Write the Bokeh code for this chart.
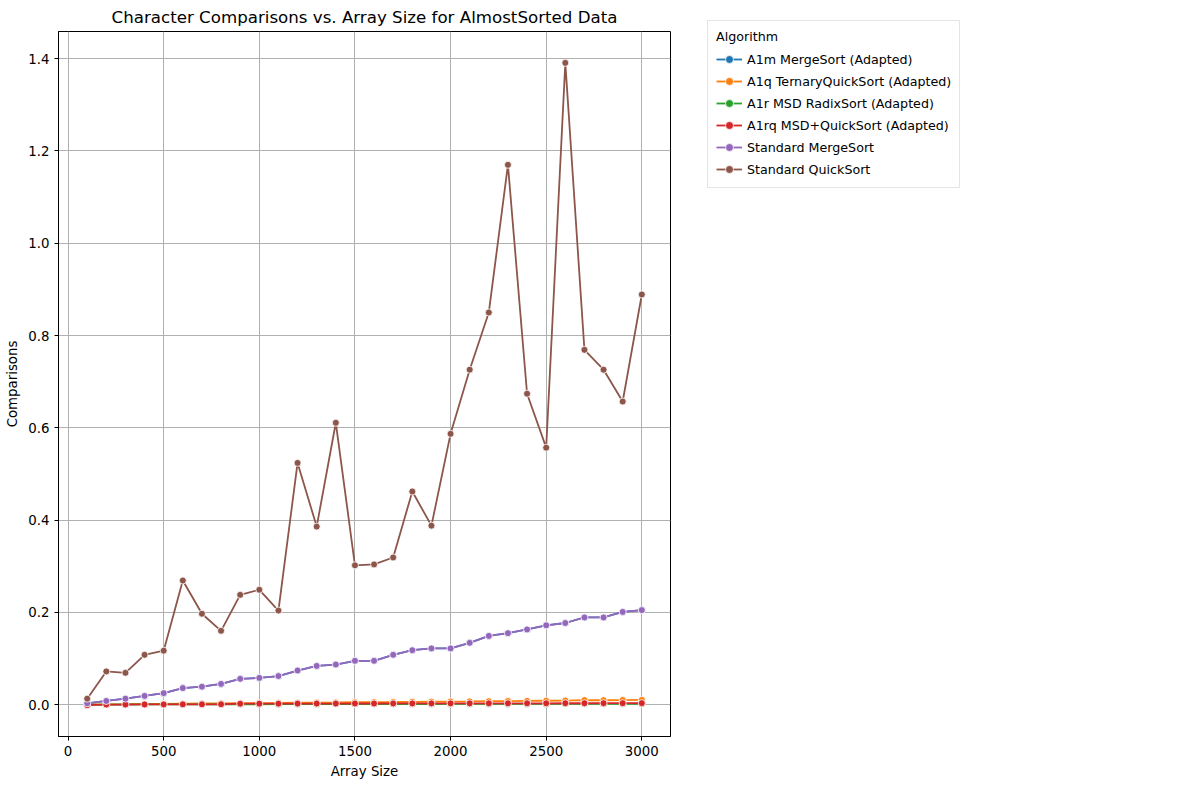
from bokeh.plotting import figure
from bokeh.models import Legend, LegendItem, Range1d, CustomJSTickFormatter, Label, SingleIntervalTicker
from bokeh.embed import file_html
from bokeh.resources import INLINE

sizes = list(range(100, 3100, 100))
std_quick = [0.13e6, 0.72e6, 0.69e6, 1.08e6, 1.17e6, 2.69e6, 1.97e6, 1.60e6, 2.38e6, 2.49e6,
             2.04e6, 5.24e6, 3.86e6, 6.11e6, 3.02e6, 3.04e6, 3.19e6, 4.62e6, 3.88e6, 5.87e6,
             7.26e6, 8.50e6, 11.70e6, 6.74e6, 5.57e6, 13.91e6, 7.69e6, 7.26e6, 6.57e6, 8.89e6]
std_merge = [0.03e6, 0.08e6, 0.13e6, 0.19e6, 0.25e6, 0.36e6, 0.39e6, 0.45e6, 0.56e6, 0.58e6,
             0.62e6, 0.74e6, 0.84e6, 0.87e6, 0.95e6, 0.95e6, 1.08e6, 1.18e6, 1.22e6, 1.22e6,
             1.34e6, 1.49e6, 1.55e6, 1.63e6, 1.72e6, 1.77e6, 1.89e6, 1.89e6, 2.01e6, 2.05e6]
a1m = std_merge
a1q = [5e3, 8e3, 1.1e4, 1.5e4, 1.8e4, 2.2e4, 2.5e4, 2.8e4, 3.2e4, 3.5e4,
       3.8e4, 4.2e4, 4.5e4, 4.8e4, 5.2e4, 5.5e4, 5.8e4, 6.2e4, 6.5e4, 6.8e4,
       7.1e4, 7.5e4, 7.8e4, 8.2e4, 8.5e4, 8.8e4, 9.8e4, 9.6e4, 1.0e5, 1.02e5]
a1r = [2e3, 3e3, 4e3, 5e3, 6e3, 6e3, 7e3, 8e3, 9e3, 9e3,
       1.0e4, 1.0e4, 1.1e4, 1.2e4, 1.2e4, 1.3e4, 1.3e4, 1.4e4, 1.4e4, 1.5e4,
       1.5e4, 1.6e4, 1.6e4, 1.7e4, 1.7e4, 1.8e4, 1.8e4, 1.9e4, 1.9e4, 2.0e4]
a1rq = [-1e4, 2e3, 3e3, 5e3, 6e3, 7e3, 8e3, 9e3, 2.1e4, 2.2e4,
        2.2e4, 2.3e4, 2.4e4, 2.4e4, 2.5e4, 2.5e4, 2.6e4, 2.7e4, 2.7e4, 2.8e4,
        2.8e4, 2.9e4, 2.9e4, 3.0e4, 3.0e4, 3.1e4, 3.1e4, 3.2e4, 3.2e4, 3.3e4]

series = [
    ("A1m MergeSort (Adapted)", a1m, "#1f77b4"),
    ("A1q TernaryQuickSort (Adapted)", a1q, "#ff7f0e"),
    ("A1r MSD RadixSort (Adapted)", a1r, "#2ca02c"),
    ("A1rq MSD+QuickSort (Adapted)", a1rq, "#d62728"),
    ("Standard MergeSort", std_merge, "#9467bd"),
    ("Standard QuickSort", std_quick, "#8c564b"),
]

p = figure(frame_width=612, frame_height=705, output_backend="svg", toolbar_location=None,
           x_range=Range1d(-50, 3150), y_range=Range1d(-0.69e6, 14.59e6),
           title="Character Comparisons vs. Array Size for AlmostSorted Data",
           min_border_left=58, min_border_right=10, min_border_top=10)
p.title.align = "center"
p.title.text_font = "DejaVu Sans"
p.title.text_font_size = "12.5pt"
p.title.text_font_style = "normal"
p.title.text_color = "black"

items = []
for name, vals, col in series:
    r1 = p.line(sizes, vals, color=col, line_width=1.8)
    r2 = p.scatter(sizes, vals, size=7, fill_color=col, line_color="white", line_width=0.8)
    items.append(LegendItem(label=name, renderers=[r1, r2]))

legend = Legend(items=items, title="Algorithm", location=(37, 548),
                label_text_font="DejaVu Sans", label_text_font_size="9.5pt",
                title_text_font="DejaVu Sans", title_text_font_size="9.5pt",
                title_text_font_style="normal", border_line_color="#cccccc",
                label_text_color="black", title_text_color="black",
                margin=0, padding=8, spacing=2, glyph_width=26, label_height=14)
p.add_layout(legend, "right")

p.xaxis.ticker = SingleIntervalTicker(interval=500)
p.yaxis.ticker = SingleIntervalTicker(interval=2e6)
p.yaxis.formatter = CustomJSTickFormatter(code="return (tick/1e7).toFixed(1);")
p.xaxis.axis_label = "Array Size"
p.yaxis.axis_label = "Comparisons"
for ax in (p.xaxis[0], p.yaxis[0]):
    ax.axis_label_text_font = "DejaVu Sans"
    ax.axis_label_text_font_style = "normal"
    ax.axis_label_text_font_size = "10pt"
    ax.axis_label_text_color = "black"
    ax.major_label_text_font = "DejaVu Sans"
    ax.major_label_text_font_size = "10pt"
    ax.major_label_text_color = "black"
    ax.minor_tick_line_color = None
    ax.major_tick_out = 4
    ax.major_tick_in = 0
p.grid.grid_line_color = "#b0b0b0"
p.grid.grid_line_alpha = 1.0
p.outline_line_color = "black"

p.add_layout(Label(x=-50, y=14.59e6, x_offset=-8, y_offset=3, text="1e7",
                   text_font="DejaVu Sans", text_font_size="10pt", text_color="black"))

open("out.html", "w").write(file_html(p, INLINE))
